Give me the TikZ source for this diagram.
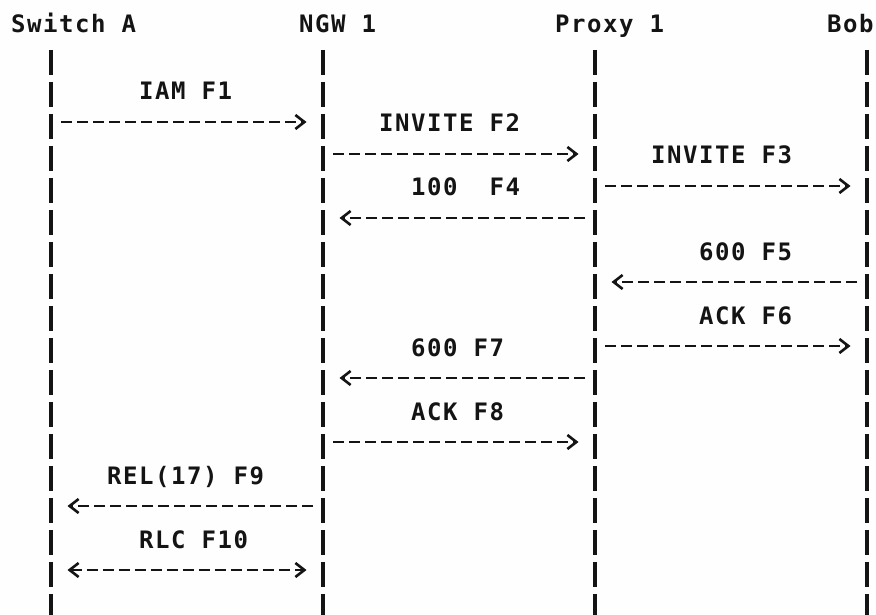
\documentclass[tikz,border=0pt]{standalone}
\usepackage{fontspec}
\newfontfamily\asciifont[LetterSpace=6.5,BoldFont={DejaVu Sans Mono Bold}]{DejaVu Sans Mono}
\usetikzlibrary{arrows.meta}
\definecolor{glyph}{RGB}{20,20,20}
\definecolor{paper}{RGB}{254,254,254}

\begin{document}
\begin{tikzpicture}[x=1pt,y=-1pt,
    txt/.style={font=\asciifont\bfseries\fontsize{24pt}{24pt}\selectfont,text=glyph,anchor=base west,inner sep=0pt},
    lifeline/.style={glyph,line width=3.6pt,dash pattern=on 25pt off 7pt},
    msg/.style={glyph,line width=2.8pt,dash pattern=on 11pt off 5pt,shorten <=10pt,shorten >=10.5pt,
      -{Straight Barb[length=9pt,width=14pt,line width=2.6pt,sep=6pt]}},
    bimsg/.style={msg,shorten <=10.5pt,
      {Straight Barb[length=9pt,width=14pt,line width=2.6pt,sep=6pt]}-{Straight Barb[length=9pt,width=14pt,line width=2.6pt,sep=6pt]}}]
    \fill[paper] (0,0) rectangle (876,615);
    \useasboundingbox (0,0) rectangle (876,615);
    % header row and lifelines
    \foreach \n/\t/\c/\b in {swA/Switch A/0/2, ngw/NGW 1/18/19, prx/Proxy 1/34/36, bob/Bob/51/53}
    {
      \node[txt] (hdr-\n) at (11+16*\c,33) {\t};
      \coordinate (\n) at (11+16*\b+8,50);
      \coordinate (\n-end) at (11+16*\b+8,615);
      \draw[lifeline] (\n) -- (\n-end);
    }
    \foreach \r in {0,...,18}
      \coordinate (row\r) at (0,26+32*\r);
    % labels: row / column / text
    \foreach \r/\c/\t [count=\i] in {2/8/IAM F1, 3/23/INVITE F2, 4/40/INVITE F3, 5/25/100\ \ F4,
      7/43/600 F5, 9/43/ACK F6, 10/25/600 F7, 12/25/ACK F8, 14/6/REL(17) F9, 16/8/RLC F10}
      \node[txt] (lbl\i) at (11+16*\c,36+32*\r) {\t};
    % messages
    \foreach \r/\s/\d in {3/swA/ngw, 4/ngw/prx, 5/prx/bob, 6/prx/ngw, 8/bob/prx,
      10/prx/bob, 11/prx/ngw, 13/ngw/prx, 15/ngw/swA}
      \draw[msg] (\s |- row\r) -- (\d |- row\r);
    \draw[bimsg] (swA |- row17) -- (ngw |- row17);
\end{tikzpicture}
\end{document}
